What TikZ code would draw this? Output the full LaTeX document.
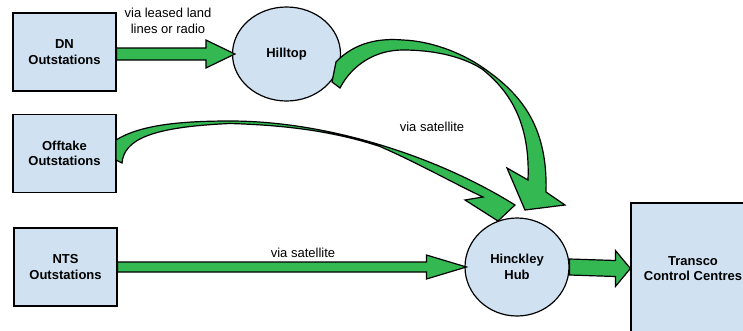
\documentclass[tikz,border=0pt]{standalone}
\usepackage{fontspec}
\setmainfont{Liberation Sans}
\usetikzlibrary{calc,shapes.geometric}
\definecolor{boxblue}{RGB}{208,226,242}
\definecolor{linkgreen}{RGB}{52,184,82}
\newcommand\labelfont{\fontsize{13}{15.5}\selectfont}
\tikzset{
	site/.style={draw, line width=1.2pt, fill=boxblue, align=center, font=\labelfont\bfseries,
		minimum width=103pt, minimum height=78pt, inner sep=0pt},
	hub/.style={draw, line width=1.2pt, fill=boxblue, ellipse, align=center, font=\labelfont\bfseries, inner sep=0pt},
	link/.style={draw, line width=1.2pt, fill=linkgreen, line join=miter},
	via/.style={align=center, font=\labelfont}
}
\begin{document}
\begin{tikzpicture}[x=1pt,y=-1pt]
		\useasboundingbox (0,0) rectangle (743,330);
		\node[site] (dn) at (64.5,52) {DN\\Outstations};
		\node[site] (off) at (64.5,153.5) {Offtake\\Outstations};
		\node[site] (nts) at (65.5,267) {NTS\\Outstations};
		\node[hub, minimum width=108pt, minimum height=94pt] (hill) at (286.5,54) {Hilltop};
		\node[hub, minimum width=104pt, minimum height=98pt] (hinck) at (517,267) {Hinckley\\Hub};
		\node[site, minimum width=124pt, minimum height=131pt] (transco) at (693,268.5) {Transco\\Control Centres};
%
		\node[via] (lease) at (168,21) {via leased land\\lines or radio};
		\node[via] (sat1) at (432,127) {via satellite};
		\node[via] (sat2) at (303,253) {via satellite};
%
		% straight links
		\path[link] ($(dn.east |- hill.west)+(0,-6)$) -- ($(hill.west)+(-26,-6)$) -- ($(hill.west)+(-26,-14)$)
			-- ($(hill.west)+(3,0)$) -- ($(hill.west)+(-26,14)$) -- ($(hill.west)+(-26,6)$)
			-- ($(dn.east |- hill.west)+(0,6)$) -- cycle;
		\path[link] ($(nts.east |- hinck.west)+(0,-5)$) -- ($(hinck.west)+(-38,-5)$) -- ($(hinck.west)+(-38,-12)$)
			-- ($(hinck.west)+(2,0)$) -- ($(hinck.west)+(-38,12)$) -- ($(hinck.west)+(-38,5)$)
			-- ($(nts.east |- hinck.west)+(0,5)$) -- cycle;
		\path[link] ($(hinck.east)+(0,-8)$) -- ($(transco.west)+(-15,-8)$) -- ($(transco.west)+(-15,-18)$)
			-- (transco.west) -- ($(transco.west)+(-15,18)$) -- ($(transco.west)+(-15,8)$)
			-- ($(hinck.east)+(0,8)$) -- cycle;
%
		% curved links into the hub
		\path[link] (116,140) .. controls (140,125) and (180,121) .. (230,121)
			.. controls (330,121) and (440,158) .. (515,205)
			-- (498,221) -- (465,200) -- (483,197)
			.. controls (455,184) and (420,164) .. (380,146.5)
			.. controls (330,130) and (280,125) .. (230,123.5)
			.. controls (150,127) and (124,140) .. (122,163) -- (116,160) -- cycle;
		\path[link] (336,62) .. controls (355,42) and (380,38) .. (403,40)
			.. controls (430,41) and (460,52) .. (482,67)
			.. controls (520,93) and (548,125) .. (546,192)
			-- (565,205) -- (525,210) -- (507,168) -- (528,180)
			.. controls (530,130) and (515,95) .. (482,69)
			.. controls (460,55) and (430,50) .. (403,50)
			.. controls (375,50) and (352,65) .. (340,88) -- (332,82) -- cycle;
	\end{tikzpicture}
\end{document}
